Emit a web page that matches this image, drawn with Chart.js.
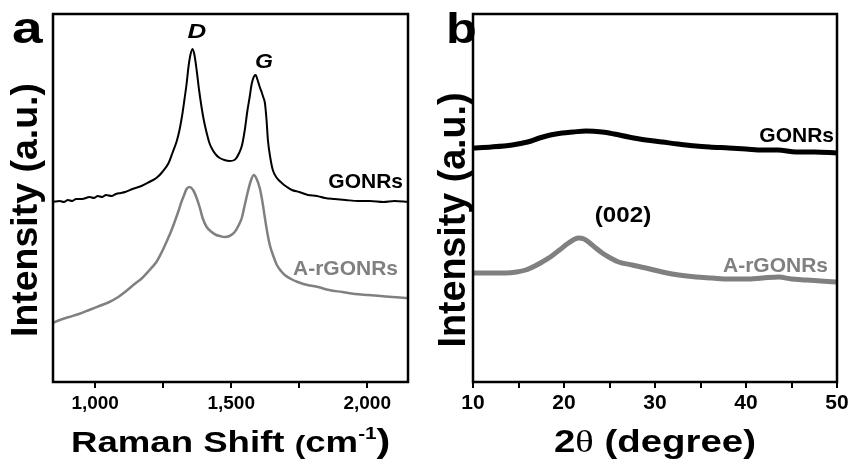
<!DOCTYPE html>
<html lang="en">
<head>
  <meta charset="UTF-8" />
  <title>Raman and XRD of GONRs / A-rGONRs</title>
  <script src="https://cdn.jsdelivr.net/npm/chart.js"></script>
  <style>
    body {
      margin: 0;
      background: #fff;
      width: 854px;
      height: 462px;
      overflow: hidden;
      position: relative;
    }
    canvas {
      position: absolute;
      top: 0;
    }
    #chartA { left: 0; }
    #chartB { left: 430px; }
  </style>
</head>
<body>
  <canvas id="chartA" width="430" height="462"></canvas>
  <canvas id="chartB" width="424" height="462"></canvas>

  <script>
    // ---- panel a: Raman ----
    const ramanShiftGONRs = [845, 870, 885, 900, 915, 930, 952, 980, 995, 1010, 1025, 1040, 1060, 1077, 1095, 1110, 1137, 1170, 1199, 1225, 1247, 1270, 1284, 1300, 1310, 1320, 1328, 1336, 1343, 1350, 1358, 1365, 1373, 1382, 1391, 1400, 1410, 1420, 1432, 1445, 1458, 1475, 1494, 1512, 1531, 1540, 1550, 1560, 1568, 1574, 1579, 1585, 1590, 1597, 1605, 1613, 1619, 1624, 1630, 1635, 1644, 1653, 1668, 1686, 1705, 1723, 1750, 1782, 1815, 1845, 1880, 1920, 1967, 2010, 2060, 2100, 2150];
    const intensityGONRs = [181, 182, 181, 183, 182, 184, 184, 186, 185, 187, 186, 188, 187, 189, 190, 191, 194, 197, 201, 205, 211, 220, 230, 242, 253, 268, 283, 299, 316, 328, 334, 328, 313, 293, 276, 262, 250, 240, 233, 228, 225, 223, 222, 223, 231, 238, 253, 273, 286, 297, 303, 307, 308, 303, 296, 290, 285, 280, 263, 243, 225, 213, 205, 200, 196, 193, 191, 188, 187, 185, 184, 183, 182, 182, 181, 182, 181];

    const ramanShiftArGONRs = [845, 870, 904, 940, 978, 1015, 1052, 1085, 1114, 1145, 1173, 1200, 1225, 1245, 1262, 1278, 1292, 1305, 1317, 1327, 1336, 1347, 1360, 1373, 1385, 1395, 1410, 1428, 1445, 1458, 1475, 1494, 1513, 1528, 1539, 1550, 1561, 1572, 1583, 1592, 1605, 1615, 1624, 1633, 1642, 1655, 1668, 1683, 1697, 1720, 1745, 1780, 1819, 1860, 1908, 1955, 2004, 2050, 2092, 2150];
    const intensityArGONRs = [60, 63, 66, 69, 73, 77, 81, 86, 92, 99, 105, 113, 121, 131, 141, 151, 161, 171, 181, 188, 194, 196, 193, 185, 175, 165, 156, 151, 148, 147, 146, 147, 151, 158, 165, 178, 191, 202, 208, 205, 195, 181, 165, 150, 138, 127, 118, 112, 108, 104, 101, 98, 96, 93, 91, 89, 88, 87, 86, 85];

    const ramanTicks = [1000, 1250, 1500, 1750, 2000];

    // ---- panel b: XRD ----
    const twoThetaGONRs = [10, 12, 14.3, 16, 17.3, 18.5, 19.8, 21, 22.4, 24.2, 25.5, 27.1, 29, 30.8, 32.5, 34.5, 36, 38.1, 40, 41.8, 43.5, 45.5, 47.5, 50];
    const xrdGONRs = [235, 236, 238, 241, 245, 248, 250, 251, 252, 251, 249, 246, 243, 241, 239, 237, 236, 235, 234, 233, 233, 231, 231, 230];

    const twoThetaArGONRs = [10, 12, 13.6, 14.8, 15.8, 16.8, 17.6, 18.5, 19.5, 20.5, 21.6, 22.2, 22.7, 23.5, 24.2, 25.1, 26, 27.5, 29, 30.8, 32.6, 34.5, 36.3, 38, 40, 41.8, 43.6, 45, 46.6, 48.2, 50];
    const xrdArGONRs = [110, 110, 110, 111, 113, 117, 121, 126, 133, 140, 145, 144, 141, 135, 130, 125, 121, 118, 115, 111, 108, 106, 105, 104, 104, 105, 106, 104, 103, 102, 101];

    const xrdTicks = [10, 15, 20, 25, 30, 35, 40, 45, 50];

    const SANS = '"Liberation Sans", Arial, sans-serif';
    const GRAY = '#808080';

    function pts(xs, ys) {
      return xs.map((x, i) => ({ x: x, y: ys[i] }));
    }

    // draws several text pieces in a row, stretched horizontally by sx
    function runs(ctx, x, y, parts, sx, align) {
      ctx.save();
      let total = 0;
      parts.forEach(p => { ctx.font = p.font; total += ctx.measureText(p.t).width; });
      total *= sx;
      let start = x;
      if (align === 'center') start = x - total / 2;
      if (align === 'right') start = x - total;
      ctx.translate(start, y);
      ctx.scale(sx, 1);
      ctx.textAlign = 'left';
      ctx.textBaseline = 'alphabetic';
      let cx = 0;
      parts.forEach(p => {
        ctx.font = p.font;
        ctx.fillStyle = p.color || '#000';
        ctx.fillText(p.t, cx, p.dy || 0);
        cx += ctx.measureText(p.t).width;
      });
      ctx.restore();
    }

    function yTitle(ctx, bx, cy, len, size) {
      ctx.save();
      ctx.font = 'bold ' + size + 'px ' + SANS;
      const w = ctx.measureText('Intensity (a.u.)').width;
      ctx.translate(bx, cy);
      ctx.rotate(-Math.PI / 2);
      ctx.scale(len / w, 1);
      ctx.textAlign = 'center';
      ctx.textBaseline = 'alphabetic';
      ctx.fillStyle = '#000';
      ctx.fillText('Intensity (a.u.)', 0, 0);
      ctx.restore();
    }

    function framePlugin(extra) {
      return {
        id: 'frame',
        afterDraw(chart) {
          const ctx = chart.ctx;
          const a = chart.chartArea;
          ctx.save();
          ctx.strokeStyle = '#000';
          ctx.lineWidth = 2.5;
          ctx.strokeRect(a.left, a.top, a.right - a.left, a.bottom - a.top);
          ctx.restore();
          extra(chart, ctx);
        }
      };
    }

    function makeChart(id, datasets, xMin, xMax, ticks, fmt, tickSize, tickPad, pad, plugin) {
      return new Chart(document.getElementById(id), {
        type: 'line',
        data: { datasets: datasets },
        options: {
          responsive: false,
          animation: false,
          devicePixelRatio: 1,
          layout: { padding: pad },
          plugins: { legend: { display: false }, tooltip: { enabled: false } },
          elements: { point: { radius: 0 }, line: { cubicInterpolationMode: 'monotone' } },
          scales: {
            x: {
              type: 'linear',
              min: xMin,
              max: xMax,
              afterBuildTicks: s => { s.ticks = ticks.map(v => ({ value: v })); },
              afterFit: s => { s.height = 80; },
              border: { display: false },
              grid: { drawOnChartArea: false, drawTicks: true, tickLength: 6, lineWidth: 2, color: '#000' },
              ticks: {
                autoSkip: false,
                maxRotation: 0,
                padding: tickPad,
                color: '#000',
                font: { family: SANS, size: tickSize, weight: 'bold' },
                callback: fmt
              }
            },
            y: { display: false, min: 1, max: 369 }
          }
        },
        plugins: [plugin]
      });
    }

    // panel a
    makeChart('chartA', [
      { data: pts(ramanShiftArGONRs, intensityArGONRs), borderColor: GRAY, borderWidth: 2.5, fill: false },
      { data: pts(ramanShiftGONRs, intensityGONRs), borderColor: '#000', borderWidth: 2, fill: false }
    ], 845, 2150, ramanTicks,
      v => (v % 500 === 0 ? v.toLocaleString('en-US') : ''),
      19, 4, { left: 53, right: 22, top: 14, bottom: 0 },
      framePlugin((chart, ctx) => {
        const B = 'bold ';
        runs(ctx, 12, 43, [{ t: 'a', font: B + '44px ' + SANS }], 1.25, 'left');
        runs(ctx, 197, 38, [{ t: 'D', font: 'italic bold 20px ' + SANS }], 1.3, 'center');
        runs(ctx, 264, 68, [{ t: 'G', font: 'italic bold 21px ' + SANS }], 1.1, 'center');
        runs(ctx, 403, 188, [{ t: 'GONRs', font: B + '21px ' + SANS }], 1, 'right');
        runs(ctx, 398, 275, [{ t: 'A-rGONRs', font: B + '21px ' + SANS, color: GRAY }], 1, 'right');
        runs(ctx, 71, 452, [
          { t: 'Raman Shift ', font: B + '30px ' + SANS },
          { t: '(', font: B + '26px ' + SANS, dy: 2 },
          { t: 'cm', font: B + '30px ' + SANS },
          { t: '-1', font: B + '17px ' + SANS, dy: -13 },
          { t: ')', font: B + '34px ' + SANS }
        ], 1.22, 'left');
        yTitle(ctx, 37, 210, 254, 36);
      }));

    // panel b
    makeChart('chartB', [
      { data: pts(twoThetaArGONRs, xrdArGONRs), borderColor: GRAY, borderWidth: 5, fill: false },
      { data: pts(twoThetaGONRs, xrdGONRs), borderColor: '#000', borderWidth: 5, fill: false }
    ], 10, 50, xrdTicks,
      v => (v % 10 === 0 ? String(v) : ''),
      21, 3, { left: 43, right: 17, top: 14, bottom: 0 },
      framePlugin((chart, ctx) => {
        const B = 'bold ';
        runs(ctx, 16, 43, [{ t: 'b', font: B + '42px ' + SANS }], 1.2, 'left');
        runs(ctx, 193, 222, [{ t: '(002)', font: B + '22px ' + SANS }], 1.1, 'center');
        runs(ctx, 404, 142, [{ t: 'GONRs', font: B + '21px ' + SANS }], 1, 'right');
        runs(ctx, 398, 272, [{ t: 'A-rGONRs', font: B + '21px ' + SANS, color: GRAY }], 1, 'right');
        runs(ctx, 124, 452, [
          { t: '2', font: B + '32px ' + SANS },
          { t: 'θ', font: '32px "Liberation Serif", "Times New Roman", serif' },
          { t: ' (degree)', font: B + '32px ' + SANS }
        ], 1.2, 'left');
        yTitle(ctx, 35, 220, 255, 38);
      }));
  </script>
</body>
</html>
